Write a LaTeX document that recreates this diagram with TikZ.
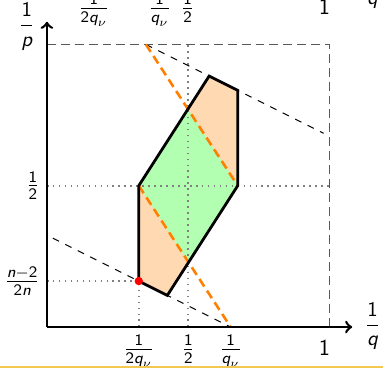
\documentclass[tikz,border=0pt]{standalone}
\usepackage{amsmath}
\begin{document}
\newcommand{\sfq}{\textsf{\itshape q}}
\newcommand{\sfn}{\textsf{\itshape n}}
\newcommand{\sfp}{\textsf{\itshape p}}
\newcommand{\one}{\textsf{1}}
\newcommand{\two}{\textsf{2}}
\begin{tikzpicture}[x=5cm,y=5cm,
  axis/.style={line width=1.3pt,-to},
  outline/.style={line width=1.4pt,line join=miter},
  frame/.style={black!65,line width=0.7pt,dash pattern=on 4.5pt off 2.5pt},
  thindash/.style={black,line width=0.5pt,dash pattern=on 3.5pt off 3.5pt},
  orangedash/.style={orange,line width=1.3pt,dash pattern=on 4.5pt off 2.5pt},
  dotline/.style={black!50,line width=0.8pt,dash pattern=on 0.8pt off 2.2pt},
  ticklab/.style={inner sep=0pt,anchor=north,font=\fontsize{11.5}{13}\selectfont},
  leftlab/.style={inner sep=0pt,anchor=east,font=\fontsize{11.5}{13}\selectfont},
  biglab/.style={inner sep=0pt,font=\fontsize{10.5}{12}\selectfont}]
\useasboundingbox (-0.166,-0.145) rectangle (1.189,1.157);
% coordinates
\coordinate (O) at (0,0);
\coordinate (XE) at (1.08,0);
\coordinate (YE) at (0,1.08);
\coordinate (A) at (0.325,0.1625);
\coordinate (B) at (0.426,0.112);
\coordinate (C) at (0.675,0.5);
\coordinate (D) at (0.675,0.8375);
\coordinate (E) at (0.574,0.888);
\coordinate (F) at (0.325,0.5);
\coordinate (G1) at (0.5,0.77);
\coordinate (G2) at (0.5,0.23);
\coordinate (L0) at (0.65,0);
\coordinate (U1) at (0.35,1);
\coordinate (LD) at (0.021,0.3145);
\coordinate (UD) at (0.979,0.6855);
\coordinate (TL) at (0,1);
\coordinate (TR) at (1,1);
\coordinate (BR) at (1,0);
% fills
\fill[orange!30] (A) -- (B) -- (C) -- (D) -- (E) -- (F) -- cycle;
\fill[green!30] (F) -- (G1) -- (C) -- (G2) -- cycle;
% dotted
\draw[dotline] (0,0.5) -- (1,0.5);
\draw[dotline] (0.5,0) -- (0.5,1);
\draw[dotline] (0,0.1625) -- (A);
\draw[dotline] (0.325,0) -- (A);
% frame
\draw[frame] (TL) -- (TR) -- (BR);
% thin dashed
\draw[thindash] (LD) -- (L0);
\draw[thindash] (U1) -- (UD);
% orange
\draw[orangedash] (F) -- (L0);
\draw[orangedash] (U1) -- (C);
% outline
\draw[outline] (A) -- (B) -- (C) -- (D) -- (E) -- (F) -- cycle;
\fill[red] (A) circle (2.1pt);
% axes
\draw[axis] (O) -- (XE);
\draw[axis] (O) -- (YE);
% labels
\node[ticklab] (l1) at (0.325,-0.026) {$\frac{\one}{\two\sfq_\nu}$};
\node[ticklab] (l2) at (0.5,-0.026) {$\frac{\one}{\two}$};
\node[ticklab] (l3) at (0.65,-0.026) {$\frac{\one}{\sfq_\nu}$};
\node[ticklab] (l4) at (0.982,-0.046) {\one};
\node[biglab] (lq) at (1.152,0.004) {$\dfrac{\one}{\sfq}$};
\node[leftlab] (lh) at (-0.025,0.5) {$\frac{\one}{\two}$};
\node[leftlab] (ln) at (-0.024,0.1625) {$\frac{\sfn-\two}{\two\sfn}$};
\node[biglab,anchor=east] (lp) at (-0.042,1.064) {$\dfrac{\one}{\sfp}$};
% partial labels of the previous figure (cut at top)
\node[ticklab] (t1) at (0.166,1.18) {$\frac{\one}{\two\sfq_\nu}$};
\node[ticklab] (t2) at (0.399,1.18) {$\frac{\one}{\sfq_\nu}$};
\node[ticklab] (t3) at (0.498,1.18) {$\frac{\one}{\two}$};
\node[ticklab] (t4) at (0.982,1.160) {\one};
\node[biglab] (tq) at (1.152,1.21) {$\dfrac{\one}{\sfq}$};
% bottom separator
\draw[color={rgb,255:red,242;green,200;blue,80},line width=1pt] (-0.166,-0.141) -- (1.189,-0.141);
\end{tikzpicture}
\end{document}
